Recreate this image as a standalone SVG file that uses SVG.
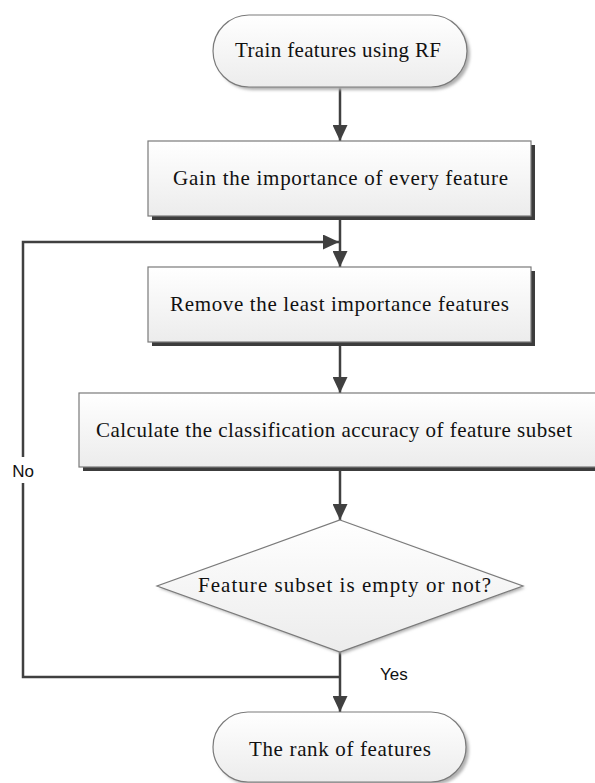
<svg xmlns="http://www.w3.org/2000/svg" width="595" height="783" viewBox="0 0 595 783">
  <defs>
    <linearGradient id="boxfill" x1="0" y1="0" x2="0" y2="1">
      <stop offset="0" stop-color="#ffffff"/>
      <stop offset="1" stop-color="#ececec"/>
    </linearGradient>
    <filter id="soft" x="-10%" y="-10%" width="130%" height="130%">
      <feGaussianBlur stdDeviation="1.5"/>
    </filter>
    <marker id="arrow" viewBox="0 0 16 15" refX="16" refY="7.5" markerUnits="userSpaceOnUse" markerWidth="16" markerHeight="15" orient="auto">
      <path d="M0,0 L16,7.5 L0,15 Z" fill="#404040"/>
    </marker>
  </defs>
  <style>
    .box { fill: url(#boxfill); stroke: #7a7a7a; stroke-width: 1.2; }
    .shadow { fill: #3c3c3c; }
    .softshadow { fill: #b0b0b0; filter: url(#soft); }
    .label { font-family: "Liberation Serif", "Times New Roman", serif; font-size: 21px; fill: #111; text-anchor: middle; }
    .edge { fill: none; stroke: #404040; stroke-width: 2.5; }
    .elabel { font-family: "Liberation Sans", Arial, sans-serif; font-size: 17px; fill: #111; }
  </style>
  <rect width="595" height="783" fill="#ffffff"/>

  <g id="connectors">
    <line class="edge" x1="340" y1="87" x2="340" y2="141" marker-end="url(#arrow)"/>
    <line class="edge" x1="340" y1="216" x2="340" y2="267" marker-end="url(#arrow)"/>
    <line class="edge" x1="340" y1="342" x2="340" y2="393" marker-end="url(#arrow)"/>
    <line class="edge" x1="340" y1="467" x2="340" y2="520" marker-end="url(#arrow)"/>
    <line class="edge" x1="340" y1="652" x2="340" y2="712" marker-end="url(#arrow)"/>
    <path class="edge" d="M340,677 L23,677 L23,483"/>
    <path class="edge" d="M23,457 L23,242 L339,242" marker-end="url(#arrow)"/>
    <text class="elabel" x="23" y="477" text-anchor="middle">No</text>
    <text class="elabel" x="380" y="680">Yes</text>
  </g>

  <g id="start">
    <rect class="softshadow" x="216" y="18" width="254" height="72" rx="36"/>
    <rect class="box" x="213" y="15" width="254" height="72" rx="36"/>
    <text class="label" x="338" y="57" textLength="206">Train features using RF</text>
  </g>

  <g id="gain">
    <rect class="shadow" x="152" y="145" width="383" height="75"/>
    <rect class="box" x="148" y="141" width="383" height="75"/>
    <text class="label" x="340.5" y="185" textLength="335">Gain the importance of every feature</text>
  </g>

  <g id="remove">
    <rect class="shadow" x="152" y="271" width="383" height="75"/>
    <rect class="box" x="148" y="267" width="383" height="75"/>
    <text class="label" x="339.5" y="311" textLength="339">Remove the least importance features</text>
  </g>

  <g id="calculate">
    <rect class="shadow" x="83" y="397" width="522" height="74"/>
    <rect class="box" x="79" y="393" width="522" height="74"/>
    <text class="label" x="334" y="437" textLength="476">Calculate the classification accuracy of feature subset</text>
  </g>

  <g id="decision">
    <polygon class="softshadow" points="342,522 525,588 342,654 159,588"/>
    <polygon class="box" points="340,520 523,586 340,652 157,586"/>
    <text class="label" x="344.5" y="592" textLength="293">Feature subset is empty or not?</text>
  </g>

  <g id="end">
    <rect class="softshadow" x="216" y="715" width="253" height="70" rx="35"/>
    <rect class="box" x="213" y="712" width="253" height="70" rx="35"/>
    <text class="label" x="340" y="756" textLength="182">The rank of features</text>
  </g>
</svg>
